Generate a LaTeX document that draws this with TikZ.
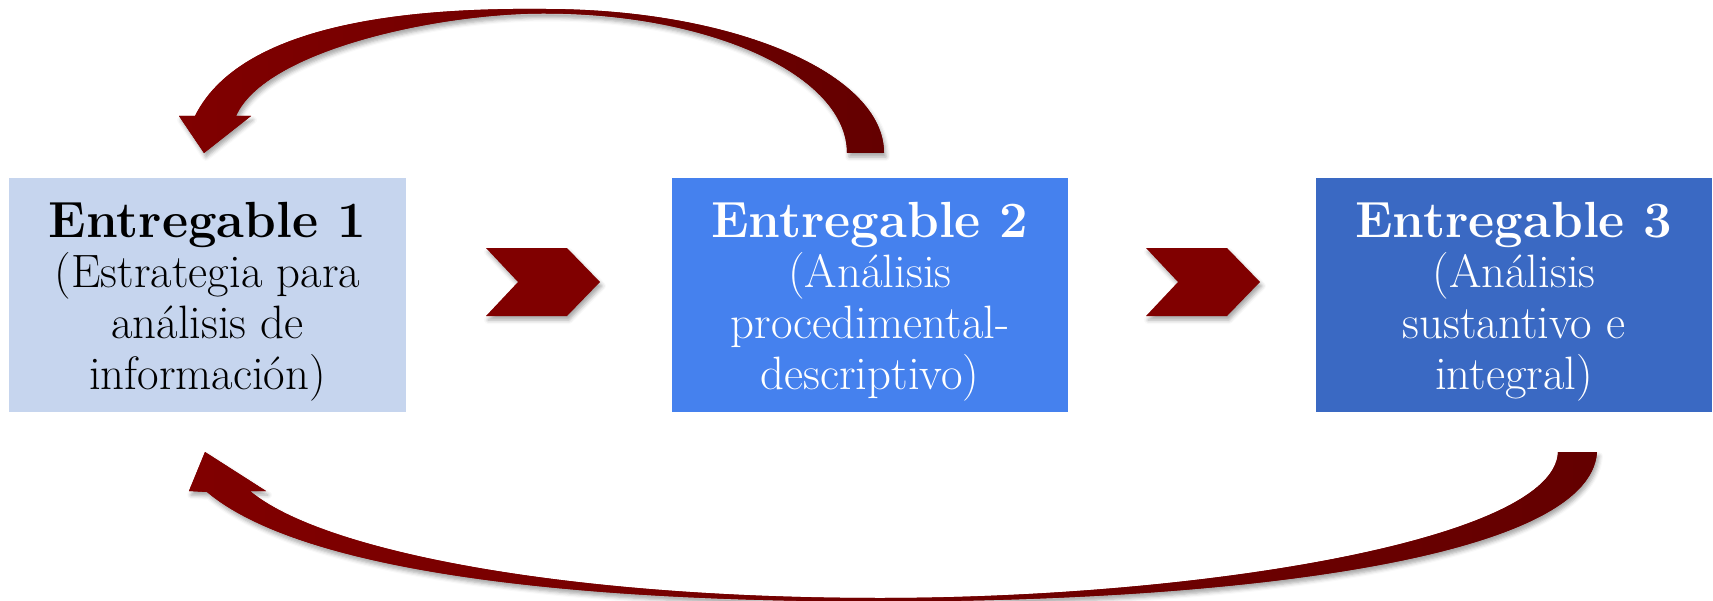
\documentclass[tikz,border=0pt]{standalone}
\usetikzlibrary{shadows.blur}
\definecolor{boxA}{HTML}{C6D5EE}
\definecolor{boxB}{HTML}{4581EE}
\definecolor{boxC}{HTML}{3A69C3}
\definecolor{arrowred}{HTML}{800000}
\definecolor{arrowdark}{HTML}{640000}
\newcommand{\entitle}[1]{{\fontsize{51}{51}\selectfont\bfseries #1}}
\begin{document}
\begin{tikzpicture}[x=1bp,y=-1bp,
  box/.style={rectangle, inner sep=0pt, minimum width=396bp, minimum height=234bp, draw=none},
  boxtext/.style={align=center, inner sep=0pt, font=\fontsize{47}{51}\selectfont},
  redshape/.style={fill=arrowred, draw=none,
    blur shadow={shadow xshift=2bp, shadow yshift=-4bp, shadow blur radius=4bp, shadow opacity=35}},
  bentarrow/.style={redshape, left color=arrowred, middle color=arrowred, right color=arrowdark}
]
\useasboundingbox (0,0) rectangle (1713,601);

% boxes
\node[box, fill=boxA] (b1) at (207.5,295) {};
\node[box, fill=boxB] (b2) at (870,295) {};
\node[box, fill=boxC] (b3) at (1514,295) {};

\node[boxtext, text=black] (t1) at (207.5,301.6) {\entitle{Entregable 1}\\(Estrategia para\\análisis de\\información)};
\node[boxtext, text=white] (t2) at (870,301.6) {\entitle{Entregable 2}\\(Análisis\\procedimental-\\descriptivo)};
\node[boxtext, text=white] (t3) at (1514,301.6) {\entitle{Entregable 3}\\(Análisis\\sustantivo e\\integral)};

% chevrons
\path[redshape] (486,248) -- (567,248) -- (600,282) -- (567,316) -- (486,316) -- (518,282) -- cycle;
\path[redshape] (1146,248) -- (1227,248) -- (1260,282) -- (1227,316) -- (1146,316) -- (1178,282) -- cycle;

% top curved arrow (from box 2 back to box 1)
\path[bentarrow] (884,153) .. controls (884,73) and (732,9) .. (545,9)
  .. controls (440,8) and (245,15) .. (195,116)
  -- (179,116) -- (204,153) -- (251,116) -- (236,116)
  .. controls (265,50) and (440,13) .. (545,13.5)
  .. controls (712,13.5) and (847,76) .. (847,153) -- cycle;

% bottom curved arrow (from box 3 back to box 1)
\path[bentarrow] (1597,452) .. controls (1590,560) and (1230,601.5) .. (880,601.5)
  .. controls (560,601.5) and (300,570) .. (207,492)
  -- (189,491) -- (205,452) -- (266,491) -- (250,491)
  .. controls (320,550) and (560,598) .. (880,598)
  .. controls (1200,598) and (1555,540) .. (1558,452) -- cycle;
\end{tikzpicture}
\end{document}
